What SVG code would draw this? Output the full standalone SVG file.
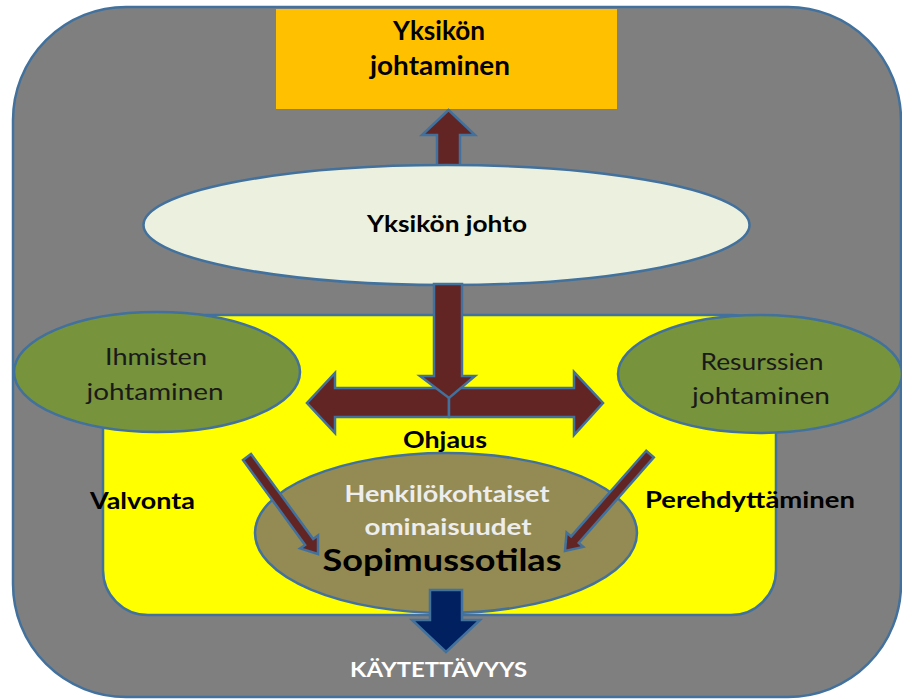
<svg xmlns="http://www.w3.org/2000/svg" width="902" height="700" viewBox="0 0 902 700">
<style>
.ol{stroke:#41719C;stroke-width:2.5;stroke-linejoin:miter}
.t{font-family:Lato,"Liberation Sans",sans-serif;text-anchor:middle}
.b{font-weight:bold}
.dark{fill:#000}
.brown{fill:#632523}
</style>
<rect width="902" height="700" fill="#fff"/>
<g id="outer"><rect class="ol" x="13" y="7" width="888" height="690" rx="113" fill="#7F7F7F"/></g>
<g id="inner"><rect class="ol" x="103" y="315" width="673" height="300" rx="45" fill="#FFFF00"/></g>
<g id="yksikon-johtaminen">
<rect x="276" y="9" width="341" height="100" fill="#FFC000"/>
<text class="t b dark" x="439" y="40" font-size="26" textLength="92" lengthAdjust="spacingAndGlyphs">Yksikön</text>
<text class="t b dark" x="440" y="75" font-size="26" textLength="140" lengthAdjust="spacingAndGlyphs">johtaminen</text>
</g>
<g id="connectors">
<polygon class="ol brown" points="437,166 437,135 422,135 448.5,110 475,135 460,135 460,166"/>
</g>
<g id="yksikon-johto">
<ellipse class="ol" cx="446.5" cy="225" rx="303" ry="60" fill="#EBF1DE"/>
<text class="t b dark" x="447" y="232" font-size="23" textLength="160" lengthAdjust="spacingAndGlyphs">Yksikön johto</text>
</g>
<g id="ihmisten">
<ellipse class="ol" cx="157" cy="372" rx="143" ry="60" fill="#77933C"/>
<text class="t" x="156" y="365" font-size="23" fill="#1a1a1a" textLength="102" lengthAdjust="spacingAndGlyphs">Ihmisten</text>
<text class="t" x="155" y="400" font-size="23" fill="#1a1a1a" textLength="137" lengthAdjust="spacingAndGlyphs">johtaminen</text>
</g>
<g id="resurssien">
<ellipse class="ol" cx="760" cy="374" rx="142" ry="59" fill="#77933C"/>
<text class="t" x="762" y="370" font-size="23" fill="#1a1a1a" textLength="123" lengthAdjust="spacingAndGlyphs">Resurssien</text>
<text class="t" x="761" y="404" font-size="23" fill="#1a1a1a" textLength="138" lengthAdjust="spacingAndGlyphs">johtaminen</text>
</g>
<g id="ohjaus-arrows">
<polygon class="ol brown" points="449,388 335,388 335,373 307,403 335,433 335,417 449,417"/>
<polygon class="ol brown" points="449,388 574,388 574,372 603,403 574,435 574,417 449,417"/>
<polygon class="ol brown" points="434,284 434,376 420,376 449,398 475,376 462,376 462,284"/>
</g>
<g id="sopimussotilas">
<ellipse class="ol" cx="446" cy="533" rx="191" ry="80" fill="#948A54"/>
<text class="t b" x="447" y="502" font-size="23" fill="#EDEDED" textLength="205" lengthAdjust="spacingAndGlyphs">Henkilökohtaiset</text>
<text class="t b" x="448" y="535" font-size="22" fill="#EDEDED" textLength="167" lengthAdjust="spacingAndGlyphs">ominaisuudet</text>
<text class="t b dark" x="442" y="571" font-size="30" textLength="239" lengthAdjust="spacingAndGlyphs">Sopimussotilas</text>
</g>
<g id="diag-arrows">
<polygon class="ol brown" points="251,454 313.2,538.9 318,535.4 318,554 300.2,548.4 305.1,544.9 243,460"/>
<polygon class="ol brown" points="646.2,450.7 571.1,536.4 566.6,532.5 565,551 583.2,546.9 578.7,543 653.8,457.3"/>
</g>
<g id="kaytettavyys-arrow">
<polygon class="ol" fill="#002060" points="430,590 430,620 412,620 446,652 480,620 462,620 462,590"/>
</g>
<g id="labels">
<text class="t b dark" x="445" y="448" font-size="22" textLength="84" lengthAdjust="spacingAndGlyphs">Ohjaus</text>
<text class="t b dark" x="142.5" y="509" font-size="22" textLength="105" lengthAdjust="spacingAndGlyphs">Valvonta</text>
<text class="t b dark" x="750" y="508" font-size="22" textLength="210" lengthAdjust="spacingAndGlyphs">Perehdyttäminen</text>
<text class="t b" x="438.5" y="677" font-size="20" fill="#fff" textLength="177" lengthAdjust="spacingAndGlyphs">KÄYTETTÄVYYS</text>
</g>
</svg>
